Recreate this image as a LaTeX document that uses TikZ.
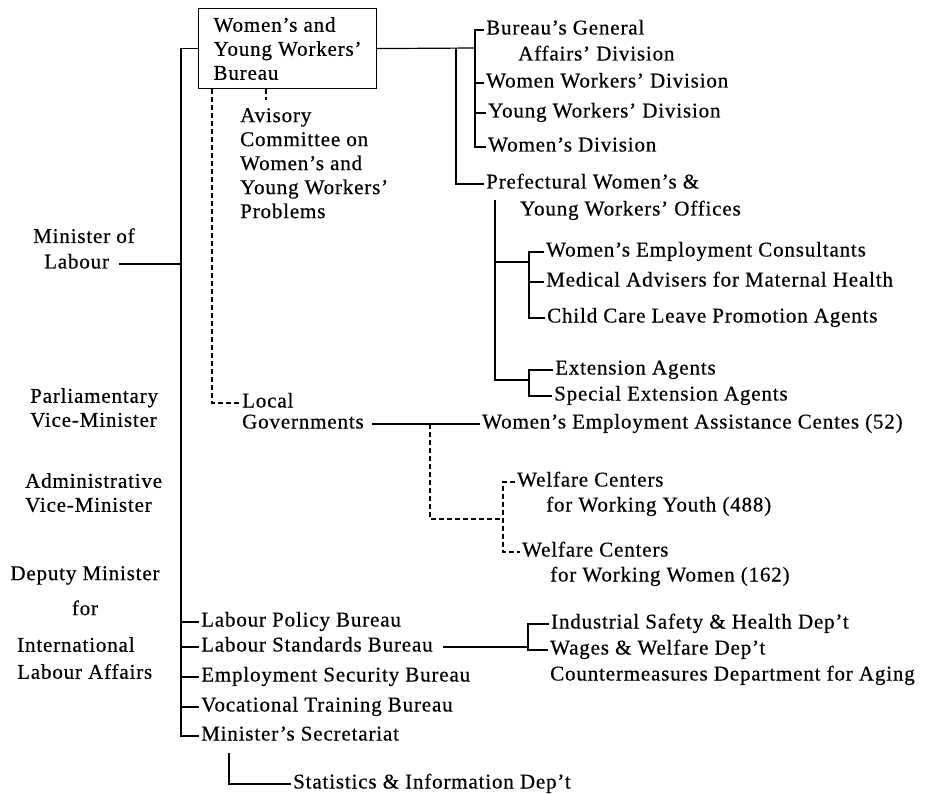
\documentclass[tikz,border=0pt]{standalone}
\usepackage{fontspec}
\setmainfont{Liberation Serif}[LetterSpace=4, FakeBold=0.5]
\usepackage{tikz}

\begin{document}
\begin{tikzpicture}[x=1pt, y=-1pt,
    every node/.style={font=\fontsize{21}{24}\selectfont},
    unit/.style={anchor=west, inner xsep=2pt, inner ysep=0pt, text height=13pt, text depth=4pt},
    note/.style={anchor=north west, inner sep=0pt, align=left},
    bureaubox/.style={draw, line width=1.2pt, anchor=north west, align=left,
      minimum width=178pt, minimum height=80pt, inner sep=0pt},
    link/.style={line width=1.2pt},
    dlink/.style={line width=1.1pt, dash pattern=on 5pt off 3pt}]
  \useasboundingbox (0,0) rectangle (928,794);

  % Ministers
  \node[note] (min1) at (33,228) {Minister of};
  \node[unit] (min2) at (42,264) {Labour};
  \node[note] (pvm) at (30,388) {Parliamentary\\Vice-Minister};
  \node[note] (avm) at (25,473) {Administrative\\Vice-Minister};
  \node[note, anchor=north, align=center] (dpm) at (85,566) {Deputy Minister\\[11pt]for};
  \node[note] (ila) at (17,637) {International\\[3pt]Labour Affairs};

  % Bureau and advisory committee
  \node[bureaubox] (wyb) at (198,8) {Women's and\\Young Workers'\\Bureau};
  \node[note] (avc) at (240,108) {Avisory\\Committee on\\Women's and\\Young Workers'\\Problems};

  % Divisions and prefectural offices
  \node[unit] (bga1) at (484,30) {Bureau's General};
  \node[unit] (bga2) at (516,56) {Affairs' Division};
  \node[unit] (wwd) at (484,83) {Women Workers' Division};
  \node[unit] (ywd) at (486,113) {Young Workers' Division};
  \node[unit] (wdv) at (486,147) {Women's Division};
  \node[unit] (pwo1) at (484,184) {Prefectural Women's \&};
  \node[unit] (pwo2) at (518,211) {Young Workers' Offices};
  \node[unit] (wec) at (544,252) {Women's Employment Consultants};
  \node[unit] (mam) at (544,282) {Medical Advisers for Maternal Health};
  \node[unit] (ccl) at (545,318) {Child Care Leave Promotion Agents};
  \node[unit] (ext) at (553,370) {Extension Agents};
  \node[unit] (sext) at (552,396) {Special Extension Agents};

  % Local governments
  \node[unit] (loc1) at (240,403) {Local};
  \node[unit] (loc2) at (240,424) {Governments};
  \node[unit] (weac) at (480,424) {Women's Employment Assistance Centes (52)};
  \node[unit] (wfy1) at (515,482) {Welfare Centers};
  \node[unit] (wfy2) at (544,507) {for Working Youth (488)};
  \node[unit] (wfw1) at (520,552) {Welfare Centers};
  \node[unit] (wfw2) at (548,577) {for Working Women (162)};

  % Bureaus of the ministry
  \node[unit] (lpol) at (199,622) {Labour Policy Bureau};
  \node[unit] (lstd) at (199,647) {Labour Standards Bureau};
  \node[unit] (emps) at (199,677) {Employment Security Bureau};
  \node[unit] (voct) at (199,707) {Vocational Training Bureau};
  \node[unit] (msec) at (199,736) {Minister's Secretariat};
  \node[unit] (sid) at (291,784) {Statistics \& Information Dep't};
  \node[unit] (isd) at (549,624) {Industrial Safety \& Health Dep't};
  \node[unit] (wwf) at (548,650) {Wages \& Welfare Dep't};
  \node[unit] (cda) at (548,676) {Countermeasures Department for Aging};

  % Junctions
  \coordinate (trk) at (181,0);
  \coordinate (bj) at (475,48);
  \coordinate (pj) at (456,48);
  \coordinate (ox) at (495,200);
  \coordinate (cj) at (529,262);
  \coordinate (ej) at (529,380);
  \coordinate (avtop) at (266,100);
  \coordinate (lj) at (430,424);
  \coordinate (wj) at (503,519);
  \coordinate (sj) at (528,647);
  \coordinate (ssj) at (229,753);

  % Main line
  \draw[link] (wyb.west) -| (trk |- msec.west) -- (msec.west);
  \foreach \n in {lpol,lstd,emps,voct} {
    \draw[link] (trk |- \n.west) -- (\n.west);
  }
  \draw[link] ([xshift=8pt]min2.east) -- (trk |- min2.east);

  % Bureau branches
  \draw[link] (wyb.east) -- (bj);
  \draw[link] (bga1.west) -| (bj) |- (wdv.west);
  \foreach \n in {wwd,ywd} {
    \draw[link] (bj |- \n.west) -- (\n.west);
  }
  \draw[link] (pj) |- (pwo1.west);
  \draw[link] (ox) |- (ej);
  \draw[link] (ox |- cj) -- (cj);
  \draw[link] (wec.west) -| (cj) |- (ccl.west);
  \draw[link] (cj |- mam.west) -- (mam.west);
  \draw[link] (ext.west) -| (ej) |- (sext.west);

  % Dashed links
  \draw[dlink] (wyb.south -| avtop) -- (avtop);
  \draw[dlink] ([xshift=14pt]wyb.south west) |- (loc1.west);
  \draw[link] ([xshift=6pt]loc2.east) -- (weac.west);
  \draw[dlink] (lj) |- (wj);
  \draw[dlink] (wfy1.west) -| (wj) |- (wfw1.west);

  % Labour standards and secretariat
  \draw[link] ([xshift=8pt]lstd.east) -- (lstd.east -| sj);
  \draw[link] (isd.west) -| (sj) |- (wwf.west);
  \draw[link] (ssj) |- (sid.west);
\end{tikzpicture}
\end{document}
